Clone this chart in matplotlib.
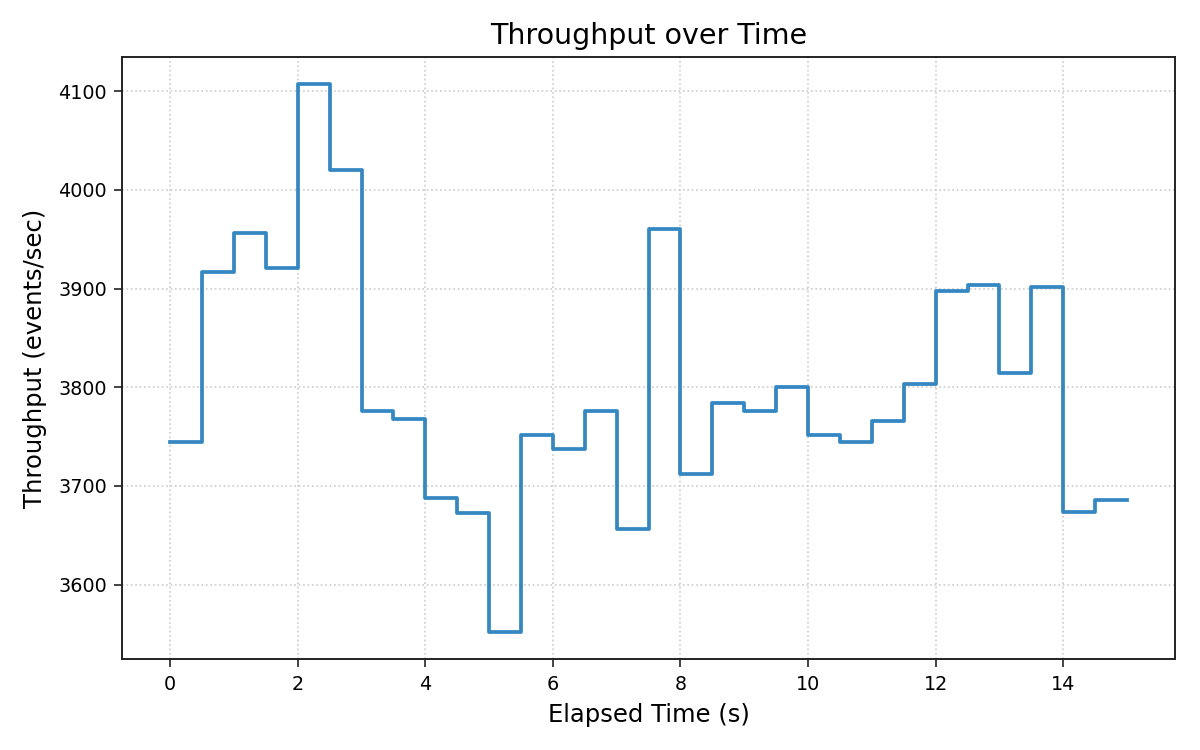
import matplotlib
matplotlib.use("Agg")
import matplotlib.pyplot as plt
import numpy as np

# elapsed time (s) and throughput per 0.5 s window
elapsed = [0.0, 0.5, 1.0, 1.5, 2.0, 2.5, 3.0, 3.5, 4.0, 4.5,
           5.0, 5.5, 6.0, 6.5, 7.0, 7.5, 8.0, 8.5, 9.0, 9.5,
           10.0, 10.5, 11.0, 11.5, 12.0, 12.5, 13.0, 13.5, 14.0, 14.5, 15.0]
throughput = [3744, 3917, 3956, 3921, 4107, 4020, 3776, 3768, 3688, 3672,
              3552, 3752, 3737, 3776, 3656, 3960, 3712, 3784, 3776, 3800,
              3752, 3744, 3766, 3803, 3898, 3904, 3814, 3902, 3674, 3686, 3686]

fig, ax = plt.subplots(figsize=(12, 7.5), dpi=100)
fig.subplots_adjust(left=0.102, right=0.979, top=0.924, bottom=0.121)

ax.step(elapsed, throughput, where='post', color='#3587c2', linewidth=2.7)

ax.set_title('Throughput over Time', fontsize=20.5, pad=9)
ax.set_xlabel('Elapsed Time (s)', fontsize=17.5, labelpad=6.5)
ax.set_ylabel('Throughput (events/sec)', fontsize=17.5, labelpad=8)
ax.tick_params(labelsize=13.8, length=6, width=1.2, pad=5, color='#222222')
ax.set_yticks([3600, 3700, 3800, 3900, 4000, 4100])
ax.grid(True, linestyle=':', color='#cccccc', linewidth=1.2)
for s in ax.spines.values():
    s.set_color('#222222')
    s.set_linewidth(1.4)

fig.savefig('out.png', dpi=100)
